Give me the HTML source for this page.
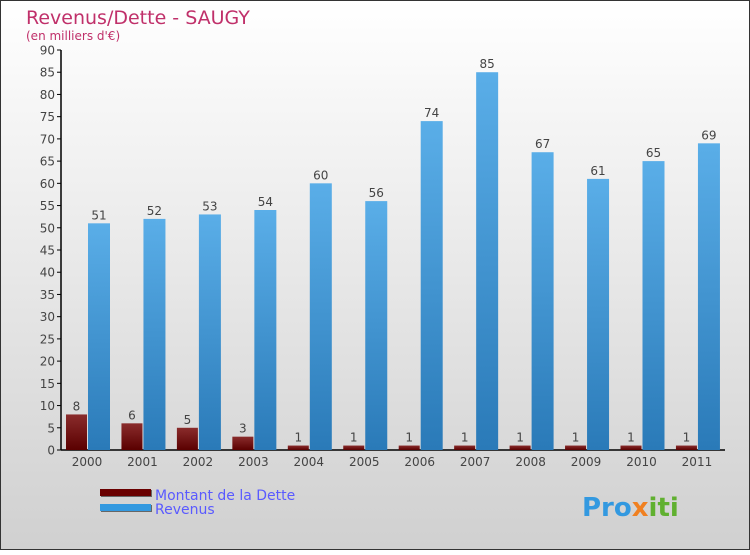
<!DOCTYPE html>
<html><head><meta charset="utf-8"><style>
body{margin:0}
svg text{font-family:"DejaVu Sans","Liberation Sans",sans-serif}
</style></head><body>
<svg width="750" height="550" xmlns="http://www.w3.org/2000/svg">
<defs>
<linearGradient id="bg" x1="0" y1="0" x2="0" y2="1"><stop offset="0" stop-color="#ffffff"/><stop offset="1" stop-color="#d0d0d0"/></linearGradient>
<linearGradient id="gd" x1="0" y1="0" x2="0" y2="1"><stop offset="0" stop-color="#8a2c2c"/><stop offset="1" stop-color="#5a0000"/></linearGradient>
<linearGradient id="gr" x1="0" y1="0" x2="0" y2="1"><stop offset="0" stop-color="#5aaee8"/><stop offset="1" stop-color="#2a7ab8"/></linearGradient>
</defs>
<rect x="0.5" y="0.5" width="749" height="549" fill="url(#bg)" stroke="#333"/>
<text x="26" y="24" font-size="19" fill="#c0306a">Revenus/Dette - SAUGY</text>
<text x="26" y="40" font-size="12" fill="#c0306a">(en milliers d'€)</text>
<g id="axes"></g>
<g id="bars"></g>
<g>
<rect x="101" y="490" width="51" height="7" fill="#666"/><rect x="100" y="489" width="51" height="7" fill="#6a0000"/>
<text x="155" y="500" font-size="14" fill="#5a5aff">Montant de la Dette</text>
<rect x="101" y="505" width="51" height="7" fill="#666"/><rect x="100" y="504" width="51" height="7" fill="#3399e0"/>
<text x="155" y="514" font-size="14" fill="#5a5aff">Revenus</text>
</g>
<text x="582" y="516" font-size="26" font-weight="bold" fill="#3399e0">Pro<tspan fill="#f08020">x</tspan><tspan fill="#60b030">iti</tspan></text>
</svg>
<script>
const categories=["2000","2001","2002","2003","2004","2005","2006","2007","2008","2009","2010","2011"];
const debtValues=[8,6,5,3,1,1,1,1,1,1,1,1];
const revenueValues=[51,52,53,54,60,56,74,85,67,61,65,69];
const yTicks=[0,5,10,15,20,25,30,35,40,45,50,55,60,65,70,75,80,85,90];
const NS="http://www.w3.org/2000/svg";
const y0=450,yTop=50,yMax=90,x0=61,step=55.45,gStart=66,bw=21;
const y=v=>y0-(v/yMax)*(y0-yTop);
const mk=(t,a,p)=>{const e=document.createElementNS(NS,t);for(const k in a)e.setAttribute(k,a[k]);p.appendChild(e);return e;};
const ax=document.getElementById('axes'),bars=document.getElementById('bars');
let l=mk('line',{x1:x0,y1:yTop,x2:x0,y2:y0,stroke:'#000','stroke-width':1.5},ax);


l=mk('line',{x1:x0,y1:y0,x2:725,y2:y0,stroke:'#000','stroke-width':1.5},ax);


yTicks.forEach(v=>{
 const t=mk('line',{x1:57,y1:y(v),x2:x0,y2:y(v),stroke:'#000'},ax);
 
 
 const tx=mk('text',{x:55,y:y(v)+4.5,'font-size':12,fill:'#444','text-anchor':'end'},ax);
 tx.textContent=v;
 
 
});
categories.forEach((c,i)=>{
 const gx=gStart+i*step;
 const tx=mk('text',{x:gx+bw,y:466,'font-size':12,fill:'#444','text-anchor':'middle'},ax);
 tx.textContent=c;
 
 
 const d=debtValues[i],r=revenueValues[i];
 const b1=mk('rect',{x:gx,y:y(d),width:bw,height:y0-y(d),fill:'url(#gd)'},bars);
 
 
 const t1=mk('text',{x:gx+bw/2,y:y(d)-4,'font-size':12,fill:'#444','text-anchor':'middle'},bars);
 t1.textContent=d;
 
 
 const b2=mk('rect',{x:gx+bw+1,y:y(r),width:bw+1,height:y0-y(r),fill:'url(#gr)'},bars);
 
 
 const t2=mk('text',{x:gx+bw+1+(bw+1)/2,y:y(r)-4,'font-size':12,fill:'#444','text-anchor':'middle'},bars);
 t2.textContent=r;
 
 
});
</script>
</body></html>
